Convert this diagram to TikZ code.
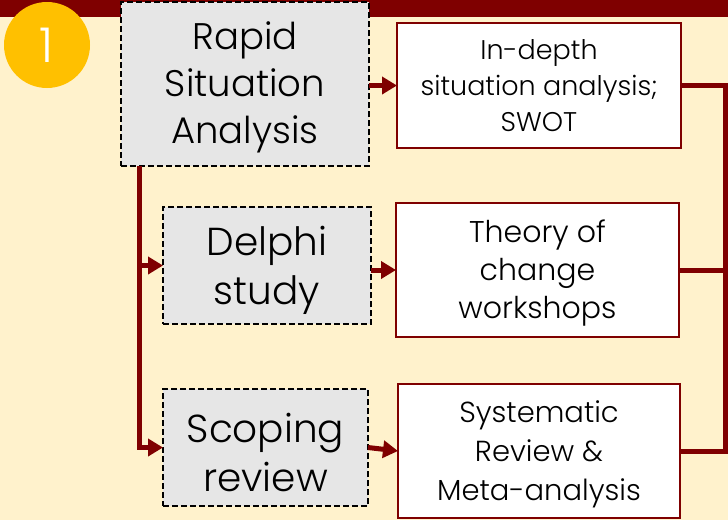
\documentclass[tikz,border=0pt]{standalone}
\usepackage{fontspec}
\setmainfont{Poppins Light}
\usetikzlibrary{arrows.meta}
\definecolor{dred}{HTML}{7F0000}
\definecolor{cream}{HTML}{FFF2CC}
\definecolor{boxgray}{HTML}{E6E6E6}
\definecolor{gold}{HTML}{FFC000}
\newcommand{\lift}[1]{\rule{0pt}{#1}}
\tikzset{
  graybox/.style={draw=black, fill=boxgray, line width=1.8pt, dash pattern=on 6pt off 3pt,
    minimum width=#1, align=center, inner sep=0pt, outer sep=0pt, text=black},
  whitebox/.style={draw=dred, fill=white, line width=2.2pt, minimum width=#1,
    align=center, inner sep=0pt, outer sep=0pt, text=black},
  arr/.style={draw=dred, line width=5pt, -{Triangle[length=15pt,width=17pt]}},
  link/.style={draw=dred, line width=5pt}
}
\begin{document}
\begin{tikzpicture}[x=1pt,y=-1pt]
\useasboundingbox (0,0) rectangle (728,520);
\fill[cream] (0,0) rectangle (728,520);
\fill[dred] (0,0) rectangle (728,17);
\node[circle, fill=gold, minimum size=86pt, inner sep=0pt, text=white, font=\fontsize{48}{48}\selectfont] (num) at (47,45) {1};

\node[graybox=248pt, minimum height=164pt, font=\fontsize{37}{47}\selectfont] (rapid) at (245,84) {\lift{35pt}Rapid\\Situation\\Analysis};
\node[graybox=208pt, minimum height=117pt, font=\fontsize{39}{49}\selectfont] (delphi) at (267,265.5) {\lift{39pt}Delphi\\study};
\node[graybox=205pt, minimum height=117pt, font=\fontsize{39}{49}\selectfont] (scoping) at (265.5,447.5) {\lift{39pt}Scoping\\review};

\node[whitebox=284pt, minimum height=125pt, font=\fontsize{27}{36}\selectfont] (indepth) at (539,85.5) {In-depth\\situation analysis;\\SWOT};
\node[whitebox=283pt, minimum height=134pt, font=\fontsize{30}{38}\selectfont] (theory) at (537.5,270) {\lift{28pt}Theory of\\change\\workshops};
\node[whitebox=282pt, minimum height=134pt, font=\fontsize{29}{39}\selectfont] (system) at (539,451) {\lift{27.5pt}Systematic\\Review \&\\Meta-analysis};

\draw[arr] (rapid.east |- indepth.west) -- (indepth.west);
\draw[arr] ([xshift=18pt]rapid.south west) |- (scoping.west);
\draw[arr] ([xshift=18pt]rapid.south west |- delphi.west) -- (delphi.west);
\draw[arr] (delphi.east |- theory.west) -- (theory.west);
\draw[arr] (scoping.east) -- (system.west);

\coordinate (rt) at (725,85.5);
\draw[link] (indepth.east) -- (rt) |- (system.east);
\draw[link] (theory.east) -- (theory.east -| rt);
\end{tikzpicture}
\end{document}
